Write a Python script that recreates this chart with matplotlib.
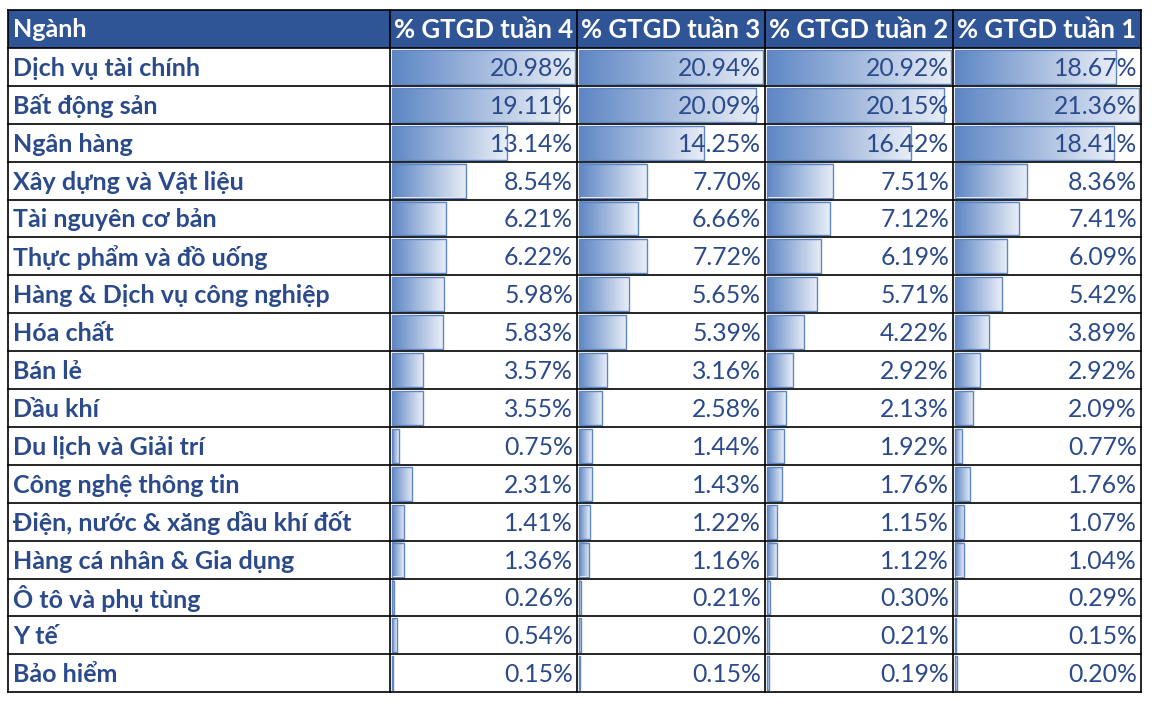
import numpy as np
import matplotlib.pyplot as plt
from matplotlib.patches import Rectangle
from matplotlib.colors import LinearSegmentedColormap

sectors = ["Dịch vụ tài chính", "Bất động sản", "Ngân hàng", "Xây dựng và Vật liệu",
           "Tài nguyên cơ bản", "Thực phẩm và đồ uống", "Hàng & Dịch vụ công nghiệp",
           "Hóa chất", "Bán lẻ", "Dầu khí", "Du lịch và Giải trí", "Công nghệ thông tin",
           "Điện, nước & xăng dầu khí đốt", "Hàng cá nhân & Gia dụng", "Ô tô và phụ tùng",
           "Y tế", "Bảo hiểm"]
headers = ["Ngành", "% GTGD tuần 4", "% GTGD tuần 3", "% GTGD tuần 2", "% GTGD tuần 1"]

week4 = [20.98, 19.11, 13.14, 8.54, 6.21, 6.22, 5.98, 5.83, 3.57, 3.55, 0.75, 2.31, 1.41, 1.36, 0.26, 0.54, 0.15]
week3 = [20.94, 20.09, 14.25, 7.70, 6.66, 7.72, 5.65, 5.39, 3.16, 2.58, 1.44, 1.43, 1.22, 1.16, 0.21, 0.20, 0.15]
week2 = [20.92, 20.15, 16.42, 7.51, 7.12, 6.19, 5.71, 4.22, 2.92, 2.13, 1.92, 1.76, 1.15, 1.12, 0.30, 0.21, 0.19]
week1 = [18.67, 21.36, 18.41, 8.36, 7.41, 6.09, 5.42, 3.89, 2.92, 2.09, 0.77, 1.76, 1.07, 1.04, 0.29, 0.15, 0.20]
weeks = [week4, week3, week2, week1]

FONT = "Lato"
HEAD_BG = "#2F5597"
TXT = "#2B4A8B"
BAR_L = "#5E86C4"
BAR_R = "#E9EEF7"

fig = plt.figure(figsize=(11.52, 7.08), dpi=100)
ax = fig.add_axes([0, 0, 1, 1])
ax.set_xlim(0, 1152)
ax.set_ylim(708, 0)
ax.axis("off")

col_x = [8, 390, 577, 765, 953, 1141]
top = 10
rh = 37.9
nrows = len(sectors)

cmap = LinearSegmentedColormap.from_list("bar", [BAR_L, BAR_R])
grad = np.linspace(0, 1, 256).reshape(1, -1)

# header
ax.add_patch(Rectangle((col_x[0], top), col_x[-1] - col_x[0], rh, facecolor=HEAD_BG, edgecolor="none"))
for j, h in enumerate(headers):
    if j == 0:
        ax.text(col_x[0] + 5, top + rh / 2 + 1, h, color="white", fontsize=18, fontweight="bold",
                family=FONT, ha="left", va="center")
    else:
        ax.text((col_x[j] + col_x[j + 1]) / 2, top + rh / 2 + 1, h, color="white", fontsize=18.5,
                fontweight="bold", family=FONT, ha="center", va="center")

# rows
for i, name in enumerate(sectors):
    y0 = top + rh * (i + 1)
    yc = y0 + rh / 2 + 1.5
    ax.text(col_x[0] + 5, yc, name, color=TXT, fontsize=18, fontweight="bold", family=FONT,
            ha="left", va="center")
    for j, vals in enumerate(weeks):
        x0 = col_x[j + 1]
        w = col_x[j + 2] - x0
        v = vals[i]
        blen = v / max(vals) * (w - 4)
        bx0, by0, by1 = x0 + 2, y0 + 2, y0 + rh - 2
        ax.imshow(grad, cmap=cmap, aspect="auto", extent=(bx0, bx0 + blen, by1, by0),
                  interpolation="bilinear", zorder=1)
        ax.add_patch(Rectangle((bx0, by0), blen, by1 - by0, facecolor="none", edgecolor=BAR_L,
                               linewidth=1.0, zorder=2))
        ax.text(x0 + w - 4, yc, f"{v:.2f}%", color=TXT, fontsize=17.8, family=FONT,
                ha="right", va="center", zorder=3)

# grid lines
bottom = top + rh * (nrows + 1)
for k in range(nrows + 2):
    yy = top + rh * k
    ax.plot([col_x[0], col_x[-1]], [yy, yy], color="black", linewidth=1.2, zorder=4)
for xx in col_x:
    ax.plot([xx, xx], [top, bottom], color="black", linewidth=1.2, zorder=4)

ax.set_xlim(0, 1152)
ax.set_ylim(708, 0)
fig.savefig("out.png", dpi=100, facecolor="white")
